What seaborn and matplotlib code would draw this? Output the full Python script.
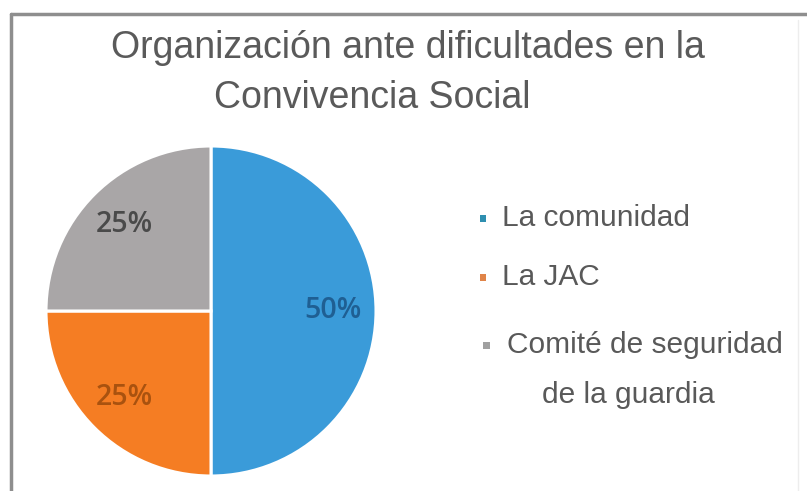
import matplotlib
matplotlib.use("Agg")
import matplotlib.pyplot as plt
import seaborn as sns
import numpy as np
from matplotlib.patches import Rectangle
from matplotlib.lines import Line2D

# ---- data ----
categories = ["La comunidad", "La JAC", "Comité de seguridad de la guardia"]
values = [50, 25, 25]
pct_labels = ["50%", "25%", "25%"]
title_lines = ["Organización ante dificultades en la", "Convivencia Social"]
legend_lines = [["La comunidad"], ["La JAC"], ["Comité de seguridad", "de la guardia"]]

wedge_colors = ["#3A9BD9", "#F57D23", "#A9A6A7"]
label_colors = ["#1F5F93", "#A9520F", "#4A4A4A"]
marker_colors = ["#2E8FB0", "#E08448", "#A0A0A0"]

sns.set_theme(style="white")
plt.rcParams["font.family"] = ["Liberation Sans", "DejaVu Sans"]

W, H = 807, 491
fig = plt.figure(figsize=(W / 100, H / 100), dpi=100)
fig.patch.set_facecolor("white")

def fx(x):
    return x / W

def fy(y):
    return 1 - y / H

# border lines (frame of the chart area)
fig.add_artist(Line2D([fx(11), 1.0], [fy(14), fy(14)], color="#8E8E8E", lw=2.5, transform=fig.transFigure))
fig.add_artist(Line2D([fx(11), fx(11)], [fy(14), 0.0], color="#8E8E8E", lw=2.5, transform=fig.transFigure))
fig.add_artist(Line2D([fx(798), fx(798)], [fy(20), 0.0], color="#EDEDED", lw=1.0, transform=fig.transFigure))

# pie
cx, cy, r = 211, 311, 165
ax = fig.add_axes([fx(cx - r), fy(cy + r), (2 * r) / W, (2 * r) / H])
wedges, texts = ax.pie(
    values,
    colors=wedge_colors,
    startangle=90,
    counterclock=False,
    wedgeprops=dict(edgecolor="white", linewidth=2.2),
    radius=1.0,
)
ax.set_xlim(-1, 1)
ax.set_ylim(-1, 1)
ax.set_aspect("equal")
ax.axis("off")
for w in wedges:
    w.set_clip_on(False)

# percentage labels
pctdist = 0.74
for w, lab, col in zip(wedges, pct_labels, label_colors):
    ang = np.deg2rad((w.theta1 + w.theta2) / 2)
    ax.text(pctdist * np.cos(ang), pctdist * np.sin(ang), lab,
            ha="center", va="center", fontsize=20.5, color=col,
            fontweight="semibold", family=["Open Sans", "DejaVu Sans"])

# title
fig.text(fx(408), fy(58), title_lines[0], ha="center", va="baseline",
         fontsize=27, color="#5A5A5A")
fig.text(fx(372), fy(108), title_lines[1], ha="center", va="baseline",
         fontsize=27, color="#5A5A5A")

# legend
leg_y = [218, 277, 345]
leg_x = [502, 502, 507]
mk_x = [483, 483, 487]
for i, (lines, col) in enumerate(zip(legend_lines, marker_colors)):
    s = 7
    fig.add_artist(Rectangle((fx(mk_x[i] - s / 2), fy(leg_y[i] + s / 2)), s / W, s / H,
                             transform=fig.transFigure, color=col, lw=0))
    fig.text(fx(leg_x[i]), fy(leg_y[i]), lines[0], ha="left", va="center",
             fontsize=21.5, color="#595959")
    if len(lines) > 1:
        fig.text(fx(628), fy(395), lines[1], ha="center", va="center",
                 fontsize=21.5, color="#595959")

fig.savefig("out.png", dpi=100, facecolor="white")
